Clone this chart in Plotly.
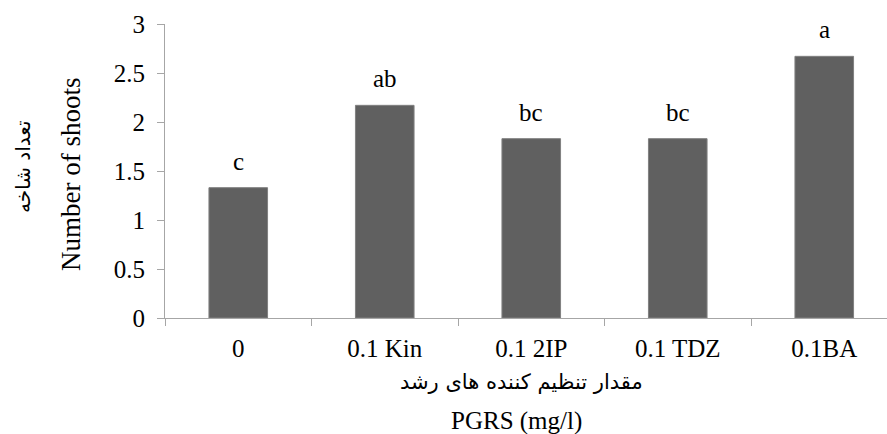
import plotly.graph_objects as go

categories = ["0", "0.1 Kin", "0.1 2IP", "0.1 TDZ", "0.1BA"]
shoots = [1.33, 2.17, 1.83, 1.83, 2.67]
letters = ["c", "ab", "bc", "bc", "a"]
y_ticks = [0, 0.5, 1, 1.5, 2, 2.5, 3]
y_tick_text = ["0", "0.5", "1", "1.5", "2", "2.5", "3"]

SERIF = "Liberation Serif"
FA = "DejaVu Sans"

W, H = 887, 434
L, R, T, B = 165, 0, 24, 116

fig = go.Figure()
fig.add_trace(go.Bar(
    x=list(range(len(categories))), y=shoots,
    marker=dict(color="#606060", line=dict(color="#808080", width=1)),
    width=0.4,
    hoverinfo="skip",
))

for i, (v, t) in enumerate(zip(shoots, letters)):
    fig.add_annotation(x=i, y=v, text=t, showarrow=False, xref="x", yref="y",
                       yanchor="bottom", yshift=11,
                       font=dict(family=SERIF, size=25, color="black"))

# axis titles
plot_w = W - L - R
plot_h = H - T - B
fig.add_annotation(text="Number of shoots", xref="paper", yref="paper",
                   x=(71 - L) / plot_w, y=(H - B - 175) / plot_h,
                   textangle=-90, showarrow=False, xanchor="center", yanchor="middle",
                   font=dict(family=SERIF, size=27, color="black"))
fig.add_annotation(text="تعداد شاخه", xref="paper", yref="paper",
                   x=(23 - L) / plot_w, y=(H - B - 167) / plot_h,
                   textangle=-90, showarrow=False, xanchor="center", yanchor="middle",
                   font=dict(family=FA, size=20, color="black"))
fig.add_annotation(text="مقدار تنظیم کننده های رشد", xref="paper", yref="paper",
                   x=(521 - L) / plot_w, y=(H - B - 382) / plot_h,
                   showarrow=False, xanchor="center", yanchor="middle",
                   font=dict(family=FA, size=21, color="black"))
fig.add_annotation(text="PGRS (mg/l)", xref="paper", yref="paper",
                   x=(516 - L) / plot_w, y=(H - B - 421) / plot_h,
                   showarrow=False, xanchor="center", yanchor="middle",
                   font=dict(family=SERIF, size=25, color="black"))

fig.update_layout(
    width=W, height=H,
    margin=dict(l=L, r=R, t=T, b=B, autoexpand=False),
    paper_bgcolor="white", plot_bgcolor="white",
    showlegend=False,
    xaxis=dict(
        range=[-0.5, -0.5 + plot_w / 146.5],
        tickmode="array", tickvals=list(range(len(categories))), ticktext=categories,
        showgrid=False, zeroline=False,
        showline=True, linecolor="#a6a6a6", linewidth=1,
        ticks="", ticklabelstandoff=8,
        tickfont=dict(family=SERIF, size=25, color="black"),
        fixedrange=True,
    ),
    yaxis=dict(
        range=[0, 3], tickmode="array", tickvals=y_ticks, ticktext=y_tick_text,
        showgrid=False, zeroline=False,
        showline=True, linecolor="#a6a6a6", linewidth=1,
        ticks="outside", ticklen=7, tickcolor="#a6a6a6",
        ticklabelstandoff=7,
        tickfont=dict(family=SERIF, size=25, color="black"),
        fixedrange=True,
    ),
)

# category boundary ticks on the x axis
fig.update_xaxes(minor=dict(tickmode="array", tickvals=[i - 0.5 for i in range(len(categories) + 1)],
                            ticks="outside", ticklen=7, tickcolor="#a6a6a6", showgrid=False))

fig.write_html("out.html", config={"displayModeBar": False},
               post_script="document.body.style.margin='0';document.body.style.overflow='hidden';")
